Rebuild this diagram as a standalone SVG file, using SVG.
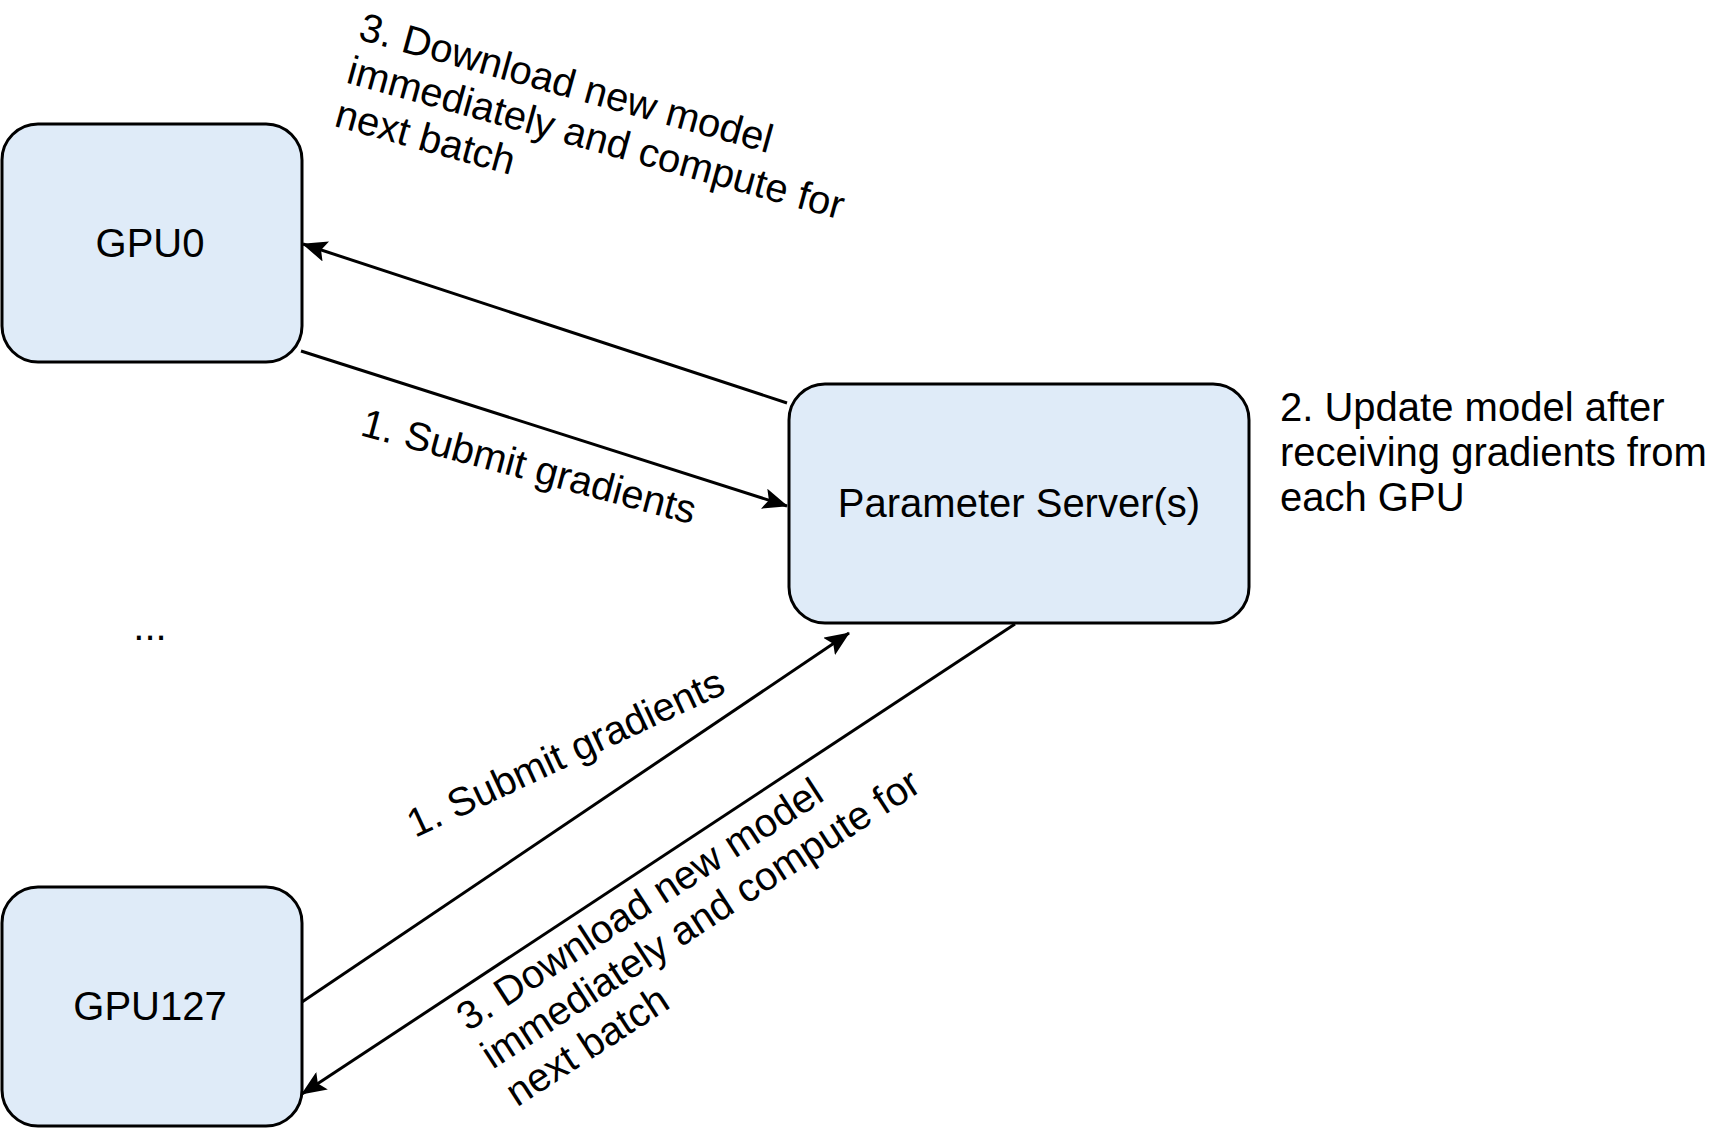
<svg xmlns="http://www.w3.org/2000/svg" width="1717" height="1129" viewBox="0 0 1717 1129">
<style>
.box{fill:#dfebf8;stroke:#000;stroke-width:3}
.t{font-family:"Liberation Sans",Arial,sans-serif;font-size:40px;fill:#000}
.c{text-anchor:middle}
.edge{stroke:#000;stroke-width:3;fill:none}
</style>
<defs>
<marker id="arr" markerUnits="userSpaceOnUse" viewBox="0 0 25 21" refX="24" refY="10.5" markerWidth="25" markerHeight="21" orient="auto">
<path d="M0,0 L25,10.5 L0,21 L5,10.5 Z" fill="#000"/>
</marker>
</defs>
<rect width="1717" height="1129" fill="#fff"/>
<g id="connectors">
<line class="edge" x1="787" y1="403" x2="303" y2="244" marker-end="url(#arr)"/>
<line class="edge" x1="301" y1="351" x2="787" y2="506" marker-end="url(#arr)"/>
<line class="edge" x1="302" y1="1002" x2="849" y2="633" marker-end="url(#arr)"/>
<line class="edge" x1="1015" y1="624" x2="302" y2="1094" marker-end="url(#arr)"/>
<text class="t" transform="translate(357,39) rotate(15.5)"><tspan x="0" y="0">3. Download new model</tspan><tspan x="0" y="45">immediately and compute for</tspan><tspan x="0" y="90">next batch</tspan></text>
<text class="t" transform="translate(359,435) rotate(15)">1. Submit gradients</text>
<text class="t" transform="translate(415,838) rotate(-25)">1. Submit gradients</text>
<text class="t" transform="translate(468,1032) rotate(-33)"><tspan x="0" y="0">3. Download new model</tspan><tspan x="0" y="45">immediately and compute for</tspan><tspan x="0" y="90">next batch</tspan></text>
</g>
<g id="gpu0">
<rect class="box" x="2" y="124" width="300" height="238" rx="36"/>
<text class="t c" x="150" y="257">GPU0</text>
</g>
<g id="ps">
<rect class="box" x="789" y="384" width="460" height="239" rx="36"/>
<text class="t c" x="1019" y="517">Parameter Server(s)</text>
</g>
<g id="gpu127">
<rect class="box" x="2" y="887" width="300" height="239" rx="36"/>
<text class="t c" x="150" y="1020">GPU127</text>
</g>
<g id="dots">
<text class="t c" x="150" y="640">...</text>
</g>
<g id="note">
<text class="t" x="1280" y="421"><tspan x="1280" y="421">2. Update model after</tspan><tspan x="1280" y="466">receiving gradients from</tspan><tspan x="1280" y="511">each GPU</tspan></text>
</g>
</svg>
